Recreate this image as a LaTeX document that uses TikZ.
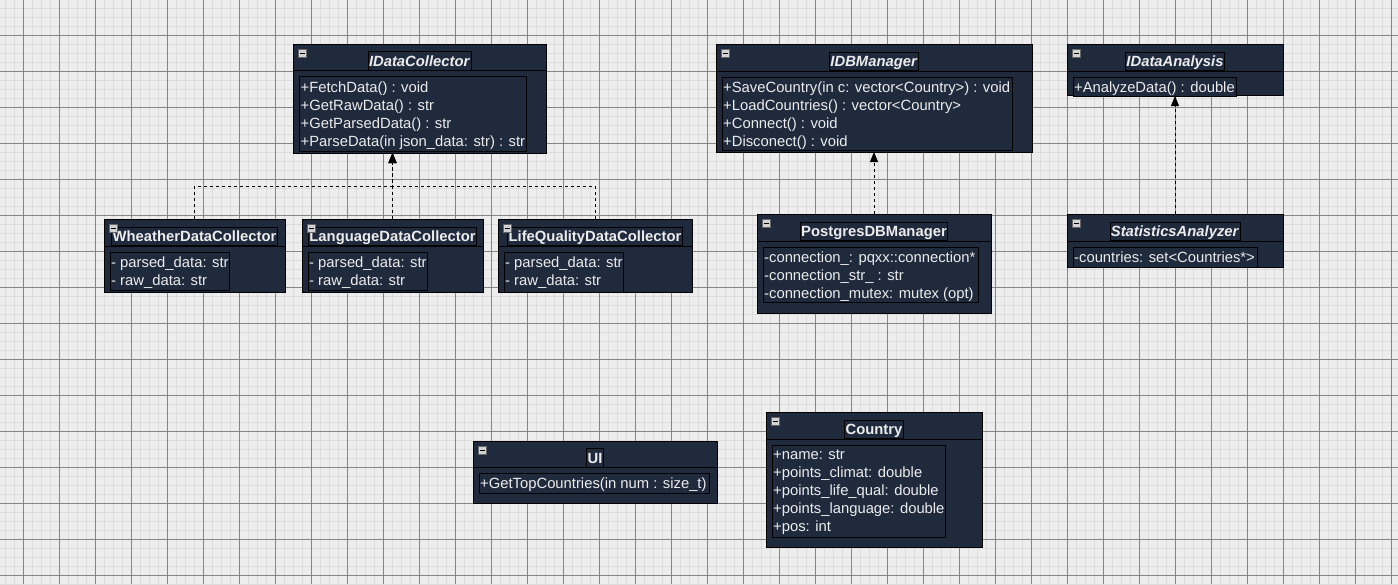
\documentclass[tikz,border=0pt]{standalone}
\usepackage{fontspec}
\setmainfont{Liberation Sans}
\usetikzlibrary{fit,arrows.meta}
\definecolor{bgc}{HTML}{EDEDED}
\definecolor{minorc}{HTML}{DCDCDC}
\definecolor{majorc}{HTML}{868686}
\definecolor{boxc}{HTML}{1F2A3D}
\definecolor{txtc}{HTML}{ECECEC}
\definecolor{iconc}{HTML}{D2D2D2}
\tikzset{
 outerbox/.style={draw=black, fill=boxc, line width=0.9pt, inner sep=0pt, outer sep=0pt},
 attrbox/.style={draw=black, fill=boxc, line width=0.8pt, inner sep=0pt, outer sep=0pt},
 titlebox/.style={draw=black, fill=boxc, line width=0.8pt, inner xsep=1pt, inner ysep=0pt, minimum height=18.5pt, text height=11pt, text depth=0.4pt, text=txtc, font=\fontsize{14.8}{18}\selectfont\bfseries, outer sep=0pt},
 attrtext/.style={text=txtc, font=\fontsize{14.8}{18}\selectfont, inner sep=0pt, anchor=base west},
 minusicon/.style={draw=black!60, fill=iconc, minimum size=8pt, inner sep=0pt, anchor=north west, line width=0.6pt},
 dashline/.style={draw=black, line width=0.9pt, dash pattern=on 3pt off 3pt},
 implarrow/.style={dashline, -{Triangle[length=10pt,width=8pt]}},
}
\newcommand\umlclass[9]{%
 \node[outerbox, fit={(#2,#3) (#4,#5)}] (#1) {};
 \draw[line width=0.9pt] (#2,#6) -- (#4,#6);
 \node[titlebox] (#1-t) at ({(#2+#4)/2},{(#3+8+#6)/2}) {#7};
 \node[minusicon] (#1-m) at ({#2+5},{#3+5}) {};
 \draw[line width=1pt] ([xshift=1.8pt]#1-m.west) -- ([xshift=-1.8pt]#1-m.east);
 \node[attrbox, fit={({#2+6},{#6+6}) (#8,#9)}] (#1-a) {};
}
\newcommand\attrlines[4]{%
 \foreach \attrtxt [count=\cnt] in {#4} {\node[attrtext] (#1-l\cnt) at (#2,{#3+18*(\cnt-1)}) {\attrtxt};}
}
\begin{document}
\begin{tikzpicture}[x=1pt,y=-1pt]
\useasboundingbox (0,0) rectangle (1398,584);
\fill[bgc] (0,0) rectangle (1398,584);
\foreach \gx in {5,14,...,1398} \draw[minorc, line width=1pt] (\gx,0) -- (\gx,584);
\foreach \gy in {8,17,...,584} \draw[minorc, line width=1pt] (0,\gy) -- (1398,\gy);
\foreach \gx in {23,59,...,1398} \draw[majorc, line width=0.8pt] (\gx,0) -- (\gx,584);
\foreach \gy in {35,71,...,584} \draw[majorc, line width=0.8pt] (0,\gy) -- (1398,\gy);

\umlclass{idc}{293}{44}{546}{153}{70}{\textit{IDataCollector}}{526}{151}
\attrlines{idc}{300.5}{92}{+FetchData() : void, +GetRawData() : str, +GetParsedData() : str, +ParseData(in json\_data: str) : str}

\umlclass{wdc}{104}{219}{285}{292}{246}{WheatherDataCollector}{229}{290}
\attrlines{wdc}{111}{267}{- parsed\_data: str, - raw\_data: str}

\umlclass{ldc}{302}{219}{483}{292}{246}{LanguageDataCollector}{427}{290}
\attrlines{ldc}{309}{267}{- parsed\_data: str, - raw\_data: str}

\umlclass{lqc}{498}{219}{692}{292}{246}{LifeQualityDataCollector}{623}{292}
\attrlines{lqc}{505}{267}{- parsed\_data: str, - raw\_data: str}

\umlclass{idb}{716}{44}{1032}{152}{71}{\textit{IDBManager}}{1012}{150}
\attrlines{idb}{723}{92}{+SaveCountry(in c: vector<Country>) : void, +LoadCountries() : vector<Country>, +Connect() : void, +Disconect() : void}

\umlclass{pdb}{757}{214}{991}{313}{241}{PostgresDBManager}{978}{302}
\attrlines{pdb}{764}{262}{-connection\_: pqxx::connection*, -connection\_str\_ : str, -connection\_mutex: mutex (opt)}

\umlclass{ida}{1067}{44}{1283}{95}{71}{\textit{IDataAnalysis}}{1236}{96}
\attrlines{ida}{1074}{92}{+AnalyzeData() : double}

\umlclass{sta}{1067}{214}{1283}{267}{241}{\textit{StatisticsAnalyzer}}{1257}{267}
\attrlines{sta}{1074}{262}{-countries: set<Countries*>}

\umlclass{ui}{473}{441}{717}{503}{467}{UI}{709}{493}
\attrlines{ui}{480}{488}{+GetTopCountries(in num : size\_t)}

\umlclass{cty}{766}{412}{982}{547}{439}{Country}{945}{537}
\attrlines{cty}{773}{459}{+name: str, +points\_climat: double, +points\_life\_qual: double, +points\_language: double, +pos: int}

\coordinate (jn) at (ldc.north |- 0,186);
\draw[implarrow] (wdc.north) |- (jn) -- (ldc.north |- idc.south);
\draw[implarrow] (lqc.north) |- (jn) -- (ldc.north |- idc.south);
\draw[implarrow] (ldc.north) -- (ldc.north |- idc.south);
\draw[implarrow] (pdb.north) -- (idb.south);
\draw[implarrow] (sta.north) -- (ida-a.south -| sta.north);
\end{tikzpicture}
\end{document}
